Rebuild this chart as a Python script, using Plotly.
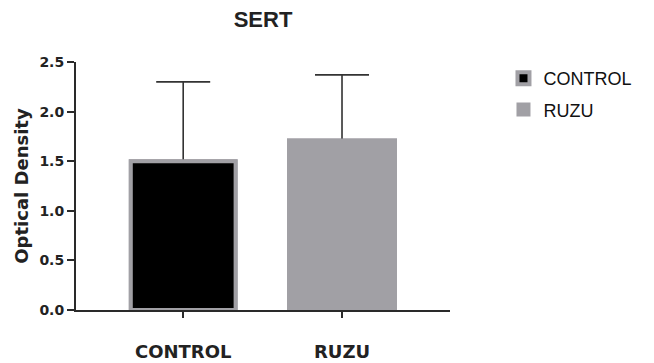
import plotly.graph_objects as go

categories = ["CONTROL", "RUZU"]
means = [1.50, 1.72]
errors_up = [0.80, 0.65]
bar_fill = ["#000000", "#a1a0a5"]
bar_edge = ["#a1a0a5", "#a1a0a5"]
bar_edge_w = [4, 2]
bar_widths = [0.66, 0.68]
y_ticks = [0.0, 0.5, 1.0, 1.5, 2.0, 2.5]

AX = "#2a2a2a"
fig = go.Figure()

# under-layer: bars carrying the error bars (lower part is hidden by the top layer)
for i, c in enumerate(categories):
    fig.add_trace(go.Bar(
        x=[c], y=[means[i]], width=bar_widths[i],
        marker=dict(color=bar_fill[i], line=dict(color=bar_edge[i], width=bar_edge_w[i])),
        error_y=dict(type="data", symmetric=False, array=[errors_up[i]], arrayminus=[means[i]],
                     color="#333333", thickness=1.6, width=27),
        showlegend=False, hoverinfo="skip",
    ))
# top layer: bars + legend entries
for i, c in enumerate(categories):
    fig.add_trace(go.Bar(
        x=[c], y=[means[i]], width=bar_widths[i], name=c, legendgroup=c,
        marker=dict(color=bar_fill[i], line=dict(color=bar_edge[i], width=bar_edge_w[i])),
    ))

# page body has an 8px margin: figure is 8px smaller and everything is shifted by -8
fig.update_layout(
    width=646, height=355,
    margin=dict(l=68, r=204, t=54, b=53, pad=0, autoexpand=False),
    paper_bgcolor="white", plot_bgcolor="white",
    barmode="overlay",
    title=dict(text="<b>SERT</b>", x=0.5, xref="paper", y=1 - 11 / 355, yref="container",
               xanchor="center", yanchor="middle",
               font=dict(family="Liberation Sans", size=22, color="#222222")),
    legend=dict(x=1.143, y=1.008, xanchor="left", yanchor="top",
                font=dict(family="Liberation Sans", size=18, color="#111111"),
                traceorder="grouped", tracegroupgap=5, bgcolor="rgba(0,0,0,0)"),
    font=dict(family="DejaVu Sans", color="#222222"),
)
fig.update_xaxes(
    type="category", categoryorder="array", categoryarray=categories,
    range=[-0.675, 1.68], showline=True, linecolor=AX, linewidth=2,
    ticks="outside", ticklen=6, tickwidth=1.6, tickcolor=AX,
    tickfont=dict(family="DejaVu Sans", size=18, weight="bold", color="#222222"),
    ticklabelstandoff=18, showgrid=False, zeroline=False, fixedrange=True,
    automargin=False,
)
fig.update_yaxes(
    range=[0, 2.5], tickvals=y_ticks, tickformat=".1f",
    showline=True, linecolor=AX, linewidth=2,
    ticks="outside", ticklen=7, tickwidth=1.6, tickcolor=AX,
    tickfont=dict(family="DejaVu Sans", size=14, weight="bold", color="#222222"),
    title=dict(text="Optical Density", standoff=6,
               font=dict(family="DejaVu Sans", size=18, weight="bold", color="#222222")),
    showgrid=False, zeroline=False, fixedrange=True, automargin=False,
)

fig.write_html("out.html")
